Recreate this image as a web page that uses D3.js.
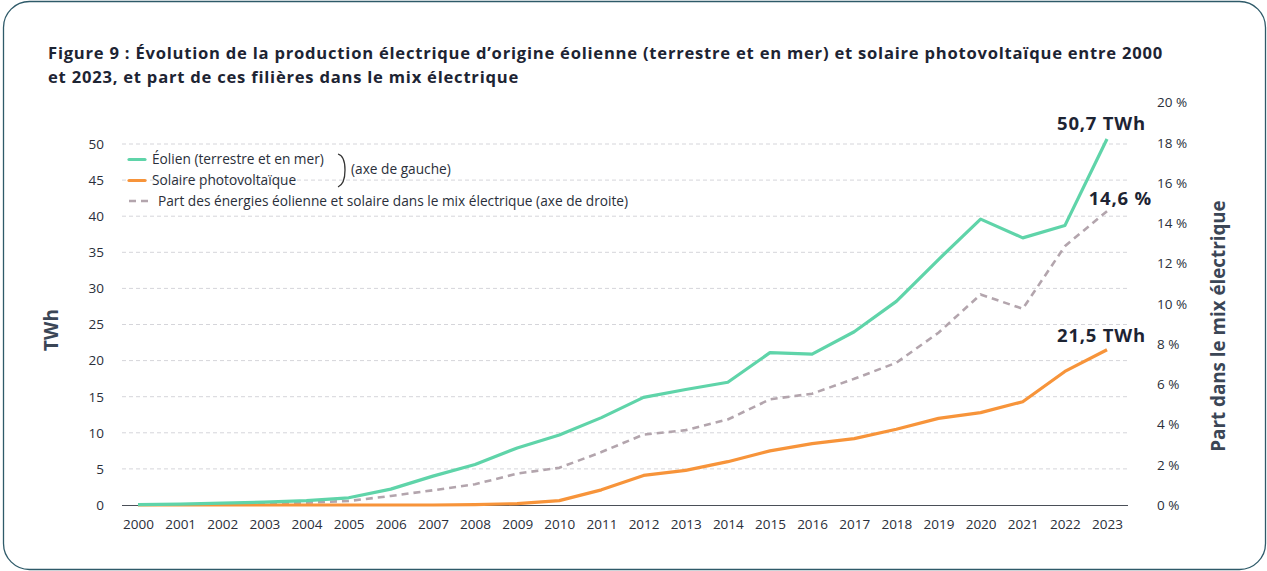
<!DOCTYPE html>
<html><head><meta charset="utf-8">
<script src="https://cdn.jsdelivr.net/npm/d3@7"></script>
<style>
html,body{margin:0;padding:0;background:#fff;}
svg{display:block;font-family:"Open Sans","Noto Sans",sans-serif;}
</style></head><body>
<svg id="c" width="1267" height="571"></svg>
<script>
const years = [2000,2001,2002,2003,2004,2005,2006,2007,2008,2009,2010,2011,2012,2013,2014,2015,2016,2017,2018,2019,2020,2021,2022,2023];
const wind  = [0.05,0.13,0.27,0.39,0.6,1.0,2.2,4.0,5.6,7.9,9.7,12.1,14.9,16.0,17.0,21.1,20.9,24.0,28.2,34.0,39.6,37.0,38.7,50.7];
const solar = [0,0,0,0,0,0,0,0,0.04,0.2,0.6,2.1,4.1,4.8,6.0,7.5,8.5,9.2,10.5,12.0,12.8,14.3,18.5,21.5];
const share = [0.02,0.03,0.05,0.08,0.12,0.2,0.45,0.73,1.03,1.56,1.85,2.63,3.5,3.72,4.25,5.25,5.53,6.27,7.07,8.56,10.46,9.75,12.86,14.6];
const leftTicks = [0,5,10,15,20,25,30,35,40,45,50];
const rightTicks = [0,2,4,6,8,10,12,14,16,18,20];
const titleLines = ["Figure 9 : Évolution de la production électrique d’origine éolienne (terrestre et en mer) et solaire photovoltaïque entre 2000","et 2023, et part de ces filières dans le mix électrique"];
const legendItems = ["Éolien (terrestre et en mer)","Solaire photovoltaïque","Part des énergies éolienne et solaire dans le mix électrique (axe de droite)"];
const endLabels = ["50,7 TWh","14,6 %","21,5 TWh"];

const C = {wind:"#5fd4a9", solar:"#f7943a", share:"#b3a5ad", text:"#2a2f3a", title:"#1d2433", axisTitle:"#3b4656", grid:"#d5d5da", border:"#2e5a69"};
const F = "'Open Sans','Noto Sans',sans-serif";

const svg = d3.select("#c");
svg.append("rect").attr("x",3.5).attr("y",1.5).attr("width",1262).attr("height",568)
  .attr("rx",26).attr("fill","#fff").attr("stroke",C.border).attr("stroke-width",1.3);

const tt = svg.append("text").attr("x",48).attr("y",59).attr("fill",C.title)
  .attr("font-size",16.6).attr("font-weight",700);
tt.selectAll("tspan").data(titleLines).join("tspan")
  .attr("x",48).attr("dy",(d,i)=>i?24:0).text(d=>d);
const first = tt.select("tspan").node();
const w = first.getComputedTextLength();
if (w > 0) { tt.attr("letter-spacing", ((1115 - w) / titleLines[0].length).toFixed(3)); }

const x = d3.scalePoint().domain(years).range([138,1107]);
const yL = d3.scaleLinear().domain([0,50]).range([505,144]);
const yR = d3.scaleLinear().domain([0,20]).range([505,102.5]);

// grid
svg.append("g").selectAll("line").data(leftTicks.slice(1)).join("line")
  .attr("x1",122).attr("x2",1128).attr("y1",d=>yL(d)).attr("y2",d=>yL(d))
  .attr("stroke",C.grid).attr("stroke-dasharray","4,3").attr("stroke-width",1);

// left axis
const gl = svg.append("g").attr("transform","translate(104,0)")
  .call(d3.axisLeft(yL).tickValues(leftTicks).tickSize(0).tickPadding(0));
gl.select(".domain").remove();
gl.selectAll("text").attr("font-size",13.5).attr("fill",C.text).attr("font-family",F);

// right axis
const gr = svg.append("g").attr("transform","translate(1157,0)")
  .call(d3.axisRight(yR).tickValues(rightTicks).tickSize(0).tickPadding(0).tickFormat(d=>d+" %"));
gr.select(".domain").remove();
gr.selectAll("text").attr("font-size",13.5).attr("fill",C.text).attr("font-family",F);

// x axis
const gx = svg.append("g").attr("transform","translate(0,505)")
  .call(d3.axisBottom(x).tickSize(0).tickPadding(14));
gx.select(".domain").remove();
gx.selectAll("text").attr("font-size",13.5).attr("fill",C.text).attr("font-family",F);
svg.append("line").attr("x1",122).attr("x2",1128).attr("y1",505.5).attr("y2",505.5).attr("stroke","#4a4f58").attr("stroke-width",1.2);

// axis titles
svg.append("text").attr("transform","translate(58,330) rotate(-90)").attr("text-anchor","middle")
  .attr("font-size",19).attr("font-weight",700).attr("fill",C.axisTitle).text("TWh");
svg.append("text").attr("transform","translate(1225,326) rotate(-90)").attr("text-anchor","middle")
  .attr("font-size",18.8).attr("font-weight",700).attr("fill",C.axisTitle).text("Part dans le mix électrique");

// lines
const lineL = d3.line().x((d,i)=>x(years[i])).y(d=>yL(d));
const lineR = d3.line().x((d,i)=>x(years[i])).y(d=>yR(d));
svg.append("path").datum(share).attr("d",lineR).attr("fill","none").attr("stroke",C.share)
  .attr("stroke-width",2.6).attr("stroke-dasharray","7,5");
svg.append("path").datum(solar).attr("d",lineL).attr("fill","none").attr("stroke",C.solar).attr("stroke-width",3.2).attr("stroke-linejoin","round");
svg.append("path").datum(wind).attr("d",lineL).attr("fill","none").attr("stroke",C.wind).attr("stroke-width",3.2).attr("stroke-linejoin","round");

// end labels
const lbl = svg.append("g").attr("font-size",18.5).attr("font-weight",700).attr("fill",C.title)
  .attr("text-anchor","end").attr("letter-spacing",0.8);
lbl.append("text").attr("x",1146).attr("y",130).text(endLabels[0]);
lbl.append("text").attr("x",1152).attr("y",205).text(endLabels[1]);
lbl.append("text").attr("x",1146).attr("y",342).text(endLabels[2]);

// legend
const lg = svg.append("g");
lg.append("line").attr("x1",129).attr("x2",145).attr("y1",159.5).attr("y2",159.5).attr("stroke",C.wind).attr("stroke-width",3.2).attr("stroke-linecap","round");
lg.append("line").attr("x1",129).attr("x2",145).attr("y1",180.5).attr("y2",180.5).attr("stroke",C.solar).attr("stroke-width",3.2).attr("stroke-linecap","round");
lg.append("line").attr("x1",129).attr("x2",150).attr("y1",201).attr("y2",201).attr("stroke",C.share).attr("stroke-width",2.6).attr("stroke-dasharray","7,5");
const lt = lg.append("g").attr("font-size",13.7).attr("fill",C.text);
lt.append("text").attr("x",152).attr("y",164).text(legendItems[0]);
lt.append("text").attr("x",152).attr("y",185).text(legendItems[1]);
lt.append("text").attr("x",158).attr("y",206).text(legendItems[2]);
lg.append("path").attr("d","M338,154 Q345,156 345,170 Q345,184 338,187").attr("fill","none").attr("stroke","#333").attr("stroke-width",1.3);
lt.append("text").attr("x",351).attr("y",174).text("(axe de gauche)");
</script></body></html>
